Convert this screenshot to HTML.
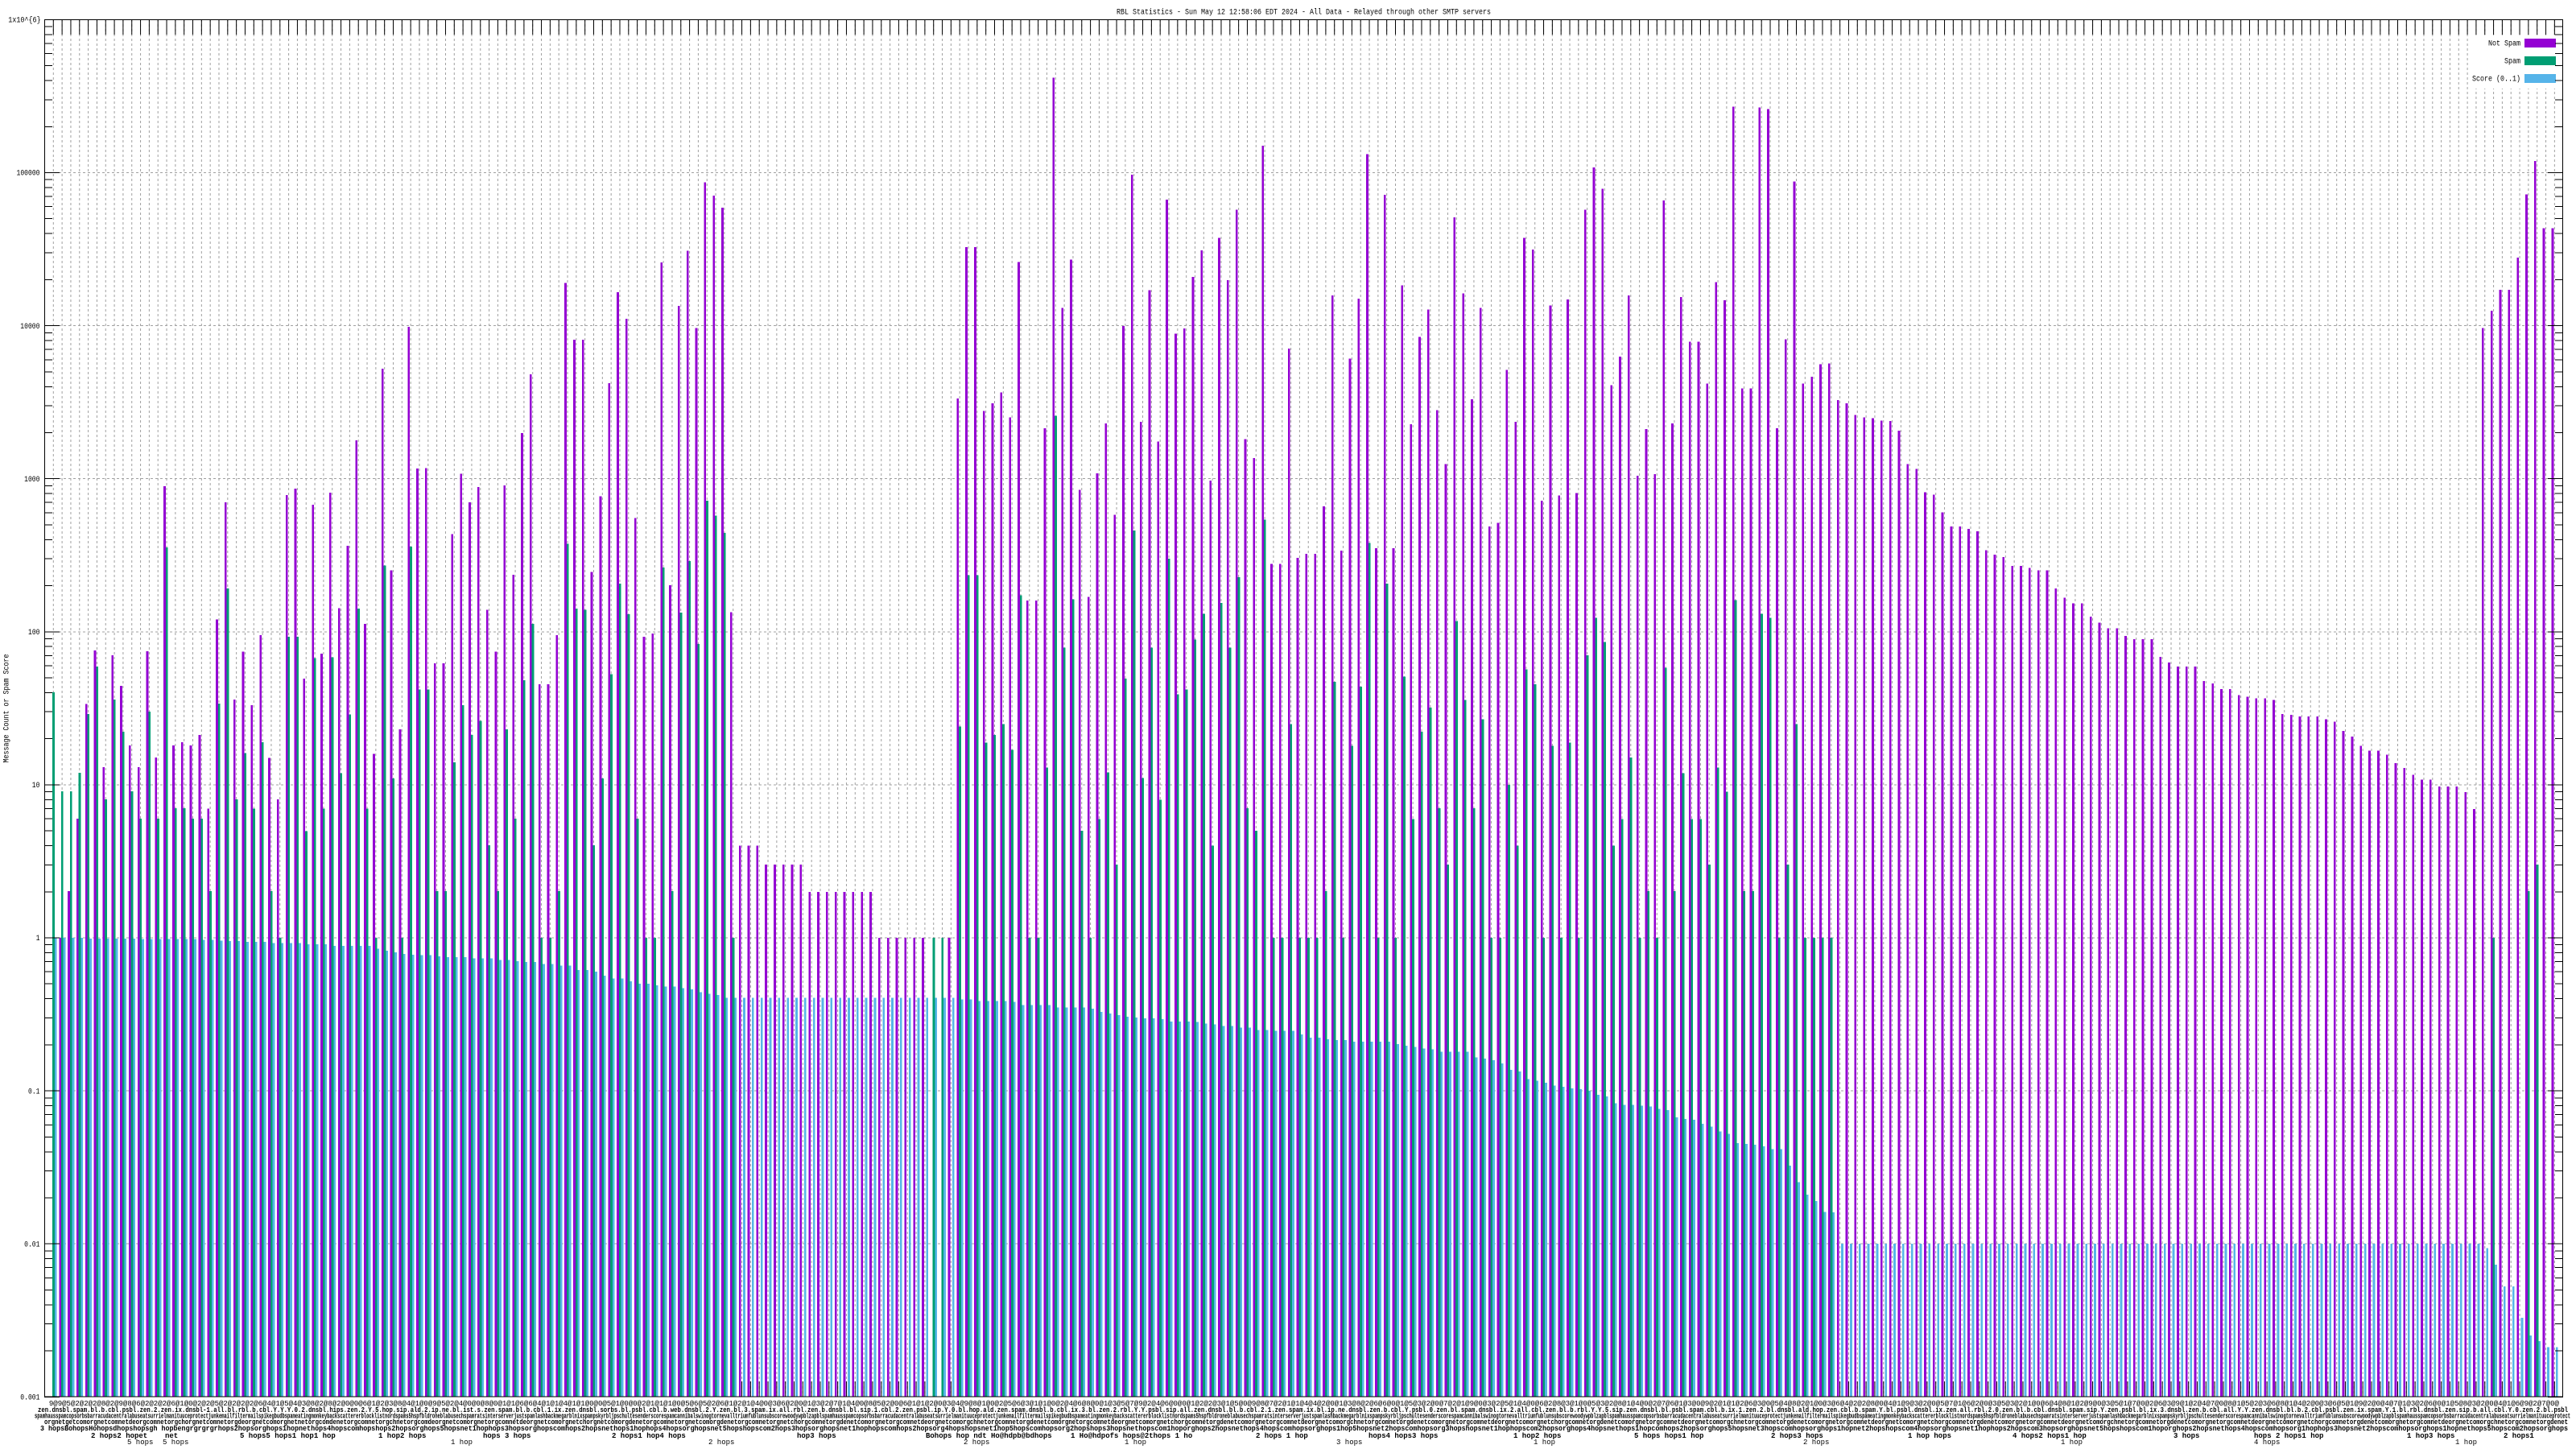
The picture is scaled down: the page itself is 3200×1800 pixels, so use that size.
<!DOCTYPE html>
<html><head><meta charset="utf-8"><style>
html,body{margin:0;padding:0;background:#fff;width:3200px;height:1800px;overflow:hidden}
svg{display:block}
</style></head><body>
<svg xmlns="http://www.w3.org/2000/svg" width="3200" height="1800" viewBox="0 0 3200 1800">
<rect width="3200" height="1800" fill="#fff"/>
<defs>
<path id="vl" d="M1 24V1735M2 24V1735M3 24V1735M4 24V1735M5 24V1735M6 24V1735M7 24V1735M8 24V1735M9 24V1735M10 24V1735M11 24V1735M12 24V1735M13 24V1735M14 24V1735M15 24V1735M16 24V1735M17 24V1735M18 24V1735M19 24V1735M20 24V1735M21 24V1735M22 24V1735M23 24V1735M24 24V1735M25 24V1735M26 24V1735M27 24V1735M28 24V1735M29 24V1735M30 24V1735M31 24V1735M32 24V1735M33 24V1735M34 24V1735M35 24V1735M36 24V1735M37 24V1735M38 24V1735M39 24V1735M40 24V1735M41 24V1735M42 24V1735M43 24V1735M44 24V1735M45 24V1735M46 24V1735M47 24V1735M48 24V1735M49 24V1735M50 24V1735M51 24V1735M52 24V1735M53 24V1735M54 24V1735M55 24V1735M56 24V1735M57 24V1735M58 24V1735M59 24V1735M60 24V1735M61 24V1735M62 24V1735M63 24V1735M64 24V1735M65 24V1735M66 24V1735M67 24V1735M68 24V1735M69 24V1735M70 24V1735M71 24V1735M72 24V1735M73 24V1735M74 24V1735M75 24V1735M76 24V1735M77 24V1735M78 24V1735M79 24V1735M80 24V1735M81 24V1735M82 24V1735M83 24V1735M84 24V1735M85 24V1735M86 24V1735M87 24V1735M88 24V1735M89 24V1735M90 24V1735M91 24V1735M92 24V1735M93 24V1735M94 24V1735M95 24V1735M96 24V1735M97 24V1735M98 24V1735M99 24V1735M100 24V1735M101 24V1735M102 24V1735M103 24V1735M104 24V1735M105 24V1735M106 24V1735M107 24V1735M108 24V1735M109 24V1735M110 24V1735M111 24V1735M112 24V1735M113 24V1735M114 24V1735M115 24V1735M116 24V1735M117 24V1735M118 24V1735M119 24V1735M120 24V1735M121 24V1735M122 24V1735M123 24V1735M124 24V1735M125 24V1735M126 24V1735M127 24V1735M128 24V1735M129 24V1735M130 24V1735M131 24V1735M132 24V1735M133 24V1735M134 24V1735M135 24V1735M136 24V1735M137 24V1735M138 24V1735M139 24V1735M140 24V1735M141 24V1735M142 24V1735M143 24V1735M144 24V1735M145 24V1735M146 24V1735M147 24V1735M148 24V1735M149 24V1735M150 24V1735M151 24V1735M152 24V1735M153 24V1735M154 24V1735M155 24V1735M156 24V1735M157 24V1735M158 24V1735M159 24V1735M160 24V1735M161 24V1735M162 24V1735M163 24V1735M164 24V1735M165 24V1735M166 24V1735M167 24V1735M168 24V1735M169 24V1735M170 24V1735M171 24V1735M172 24V1735M173 24V1735M174 24V1735M175 24V1735M176 24V1735M177 24V1735M178 24V1735M179 24V1735M180 24V1735M181 24V1735M182 24V1735M183 24V1735M184 24V1735M185 24V1735M186 24V1735M187 24V1735M188 24V1735M189 24V1735M190 24V1735M191 24V1735M192 24V1735M193 24V1735M194 24V1735M195 24V1735M196 24V1735M197 24V1735M198 24V1735M199 24V1735M200 24V1735M201 24V1735M202 24V1735M203 24V1735M204 24V1735M205 24V1735M206 24V1735M207 24V1735M208 24V1735M209 24V1735M210 24V1735M211 24V1735M212 24V1735M213 24V1735M214 24V1735M215 24V1735M216 24V1735M217 24V1735M218 24V1735M219 24V1735M220 24V1735M221 24V1735M222 24V1735M223 24V1735M224 24V1735M225 24V1735M226 24V1735M227 24V1735M228 24V1735M229 24V1735M230 24V1735M231 24V1735M232 24V1735M233 24V1735M234 24V1735M235 24V1735M236 24V1735M237 24V1735M238 24V1735M239 24V1735M240 24V1735M241 24V1735M242 24V1735M243 24V1735M244 24V1735M245 24V1735M246 24V1735M247 24V1735M248 24V1735M249 24V1735M250 24V1735M251 24V1735M252 24V1735M253 24V1735M254 24V1735M255 24V1735M256 24V1735M257 24V1735M258 24V1735M259 24V1735M260 24V1735M261 24V1735M262 24V1735M263 24V1735M264 24V1735M265 24V1735M266 24V1735M267 24V1735M268 24V1735M269 24V1735M270 24V1735M271 24V1735M272 24V1735M273 24V1735M274 24V1735M275 24V1735M276 24V1735M277 24V1735M278 24V1735M279 24V1735M280 24V1735M281 24V1735M282 24V1735M283 24V1735M284 24V1735M285 24V1735M286 24V1735M287 24V1735M288 24V1735"/>
<path id="yt" d="M55 1678.1h10M55 1644.6h10M55 1620.9h10M55 1602.4h10M55 1587.4h10M55 1574.7h10M55 1563.6h10M55 1553.9h10M55 1488h10M55 1454.5h10M55 1430.8h10M55 1412.3h10M55 1397.3h10M55 1384.6h10M55 1373.5h10M55 1363.8h10M55 1297.9h10M55 1264.4h10M55 1240.7h10M55 1222.2h10M55 1207.2h10M55 1194.5h10M55 1183.4h10M55 1173.7h10M55 1107.8h10M55 1074.3h10M55 1050.6h10M55 1032.1h10M55 1017.1h10M55 1004.4h10M55 993.3h10M55 983.6h10M55 917.7h10M55 884.2h10M55 860.5h10M55 842h10M55 827h10M55 814.3h10M55 803.2h10M55 793.5h10M55 727.6h10M55 694.1h10M55 670.4h10M55 651.9h10M55 636.9h10M55 624.2h10M55 613.1h10M55 603.4h10M55 537.5h10M55 504h10M55 480.3h10M55 461.8h10M55 446.8h10M55 434.1h10M55 423h10M55 413.3h10M55 347.4h10M55 313.9h10M55 290.2h10M55 271.7h10M55 256.7h10M55 244h10M55 232.9h10M55 223.2h10M55 157.3h10M55 123.8h10M55 100.1h10M55 81.6h10M55 66.6h10M55 53.9h10M55 42.8h10M55 33.1h10M55 1735.3h19M55 1545.2h19M55 1355.1h19M55 1165h19M55 974.9h19M55 784.8h19M55 594.7h19M55 404.6h19M55 214.5h19M55 24.4h19"/>
</defs>

<!-- horizontal grid -->
<path d="M55 214.5H3184M55 404.6H3184M55 594.7H3184M55 784.8H3184M55 974.9H3184M55 1165H3184M55 1355.1H3184M55 1545.2H3184" stroke="#a0a0a0" stroke-width="1" stroke-dasharray="3 3" fill="none" shape-rendering="crispEdges"/>
<!-- vertical grid -->
<use href="#vl" transform="translate(55.47 0) scale(10.826 1)" stroke="#a0a0a0" stroke-width="0.0924" stroke-dasharray="3 3" fill="none" shape-rendering="crispEdges"/>
<!-- x ticks top & bottom -->
<use href="#vl" transform="translate(55.47 0) scale(10.826 1)" stroke="#000" stroke-width="0.0924" stroke-dasharray="19 1673" fill="none" shape-rendering="crispEdges"/>

<!-- bars -->
<g transform="translate(55.47 1165) scale(10.826 -190.1)" shape-rendering="crispEdges">
<path fill="#9400d3" d="M1.65-3h.25V0h-.25zM2.65-3h.25V.305h-.25zM3.65-3h.25V.778h-.25zM4.65-3h.25V1.529h-.25zM5.65-3h.25V1.878h-.25zM6.65-3h.25V1.115h-.25zM7.65-3h.25V1.846h-.25zM8.65-3h.25V1.646h-.25zM9.65-3h.25V1.257h-.25zM10.65-3h.25V1.115h-.25zM11.65-3h.25V1.873h-.25zM12.65-3h.25V1.178h-.25zM13.65-3h.25V2.95h-.25zM14.65-3h.25V1.257h-.25zM15.65-3h.25V1.278h-.25zM16.65-3h.25V1.258h-.25zM17.65-3h.25V1.325h-.25zM18.65-3h.25V.845h-.25zM19.65-3h.25V2.081h-.25zM20.65-3h.25V2.845h-.25zM21.65-3h.25V1.557h-.25zM22.65-3h.25V1.871h-.25zM23.65-3h.25V1.52h-.25zM24.65-3h.25V1.978h-.25zM25.65-3h.25V1.177h-.25zM26.65-3h.25V.904h-.25zM27.65-3h.25V2.893h-.25zM28.65-3h.25V2.934h-.25zM29.65-3h.25V1.694h-.25zM30.65-3h.25V2.83h-.25zM31.65-3h.25V1.856h-.25zM32.65-3h.25V2.908h-.25zM33.65-3h.25V2.155h-.25zM34.65-3h.25V2.561h-.25zM35.65-3h.25V3.251h-.25zM36.65-3h.25V2.052h-.25zM37.65-3h.25V1.203h-.25zM38.65-3h.25V3.72h-.25zM39.65-3h.25V2.402h-.25zM40.65-3h.25V1.362h-.25zM41.65-3h.25V3.993h-.25zM42.65-3h.25V3.066h-.25zM43.65-3h.25V3.07h-.25zM44.65-3h.25V1.793h-.25zM45.65-3h.25V1.793h-.25zM46.65-3h.25V2.638h-.25zM47.65-3h.25V3.033h-.25zM48.65-3h.25V2.845h-.25zM49.65-3h.25V2.945h-.25zM50.65-3h.25V2.144h-.25zM51.65-3h.25V1.871h-.25zM52.65-3h.25V2.956h-.25zM53.65-3h.25V2.373h-.25zM54.65-3h.25V3.299h-.25zM55.65-3h.25V3.683h-.25zM56.65-3h.25V1.657h-.25zM57.65-3h.25V1.657h-.25zM58.65-3h.25V1.978h-.25zM59.65-3h.25V4.28h-.25zM60.65-3h.25V3.908h-.25zM61.65-3h.25V3.908h-.25zM62.65-3h.25V2.391h-.25zM63.65-3h.25V2.886h-.25zM64.65-3h.25V3.624h-.25zM65.65-3h.25V4.218h-.25zM66.65-3h.25V4.044h-.25zM67.65-3h.25V2.742h-.25zM68.65-3h.25V1.967h-.25zM69.65-3h.25V1.989h-.25zM70.65-3h.25V4.413h-.25zM71.65-3h.25V2.303h-.25zM72.65-3h.25V4.129h-.25zM73.65-3h.25V4.491h-.25zM74.65-3h.25V3.985h-.25zM75.65-3h.25V4.937h-.25zM76.65-3h.25V4.849h-.25zM77.65-3h.25V4.771h-.25zM78.65-3h.25V2.129h-.25zM79.65-3h.25V.602h-.25zM80.65-3h.25V.602h-.25zM81.65-3h.25V.602h-.25zM82.65-3h.25V.479h-.25zM83.65-3h.25V.479h-.25zM84.65-3h.25V.479h-.25zM85.65-3h.25V.479h-.25zM86.65-3h.25V.479h-.25zM87.65-3h.25V.301h-.25zM88.65-3h.25V.301h-.25zM89.65-3h.25V.301h-.25zM90.65-3h.25V.301h-.25zM91.65-3h.25V.301h-.25zM92.65-3h.25V.301h-.25zM93.65-3h.25V.301h-.25zM94.65-3h.25V.301h-.25zM95.65-3h.25V0h-.25zM96.65-3h.25V0h-.25zM97.65-3h.25V0h-.25zM98.65-3h.25V0h-.25zM99.65-3h.25V0h-.25zM100.65-3h.25V0h-.25zM103.65-3h.25V0h-.25zM104.65-3h.25V3.524h-.25zM105.65-3h.25V4.513h-.25zM106.65-3h.25V4.513h-.25zM107.65-3h.25V3.442h-.25zM108.65-3h.25V3.493h-.25zM109.65-3h.25V3.565h-.25zM110.65-3h.25V3.401h-.25zM111.65-3h.25V4.416h-.25zM112.65-3h.25V2.203h-.25zM113.65-3h.25V2.203h-.25zM114.65-3h.25V3.33h-.25zM115.65-3h.25V5.62h-.25zM116.65-3h.25V4.115h-.25zM117.65-3h.25V4.431h-.25zM118.65-3h.25V2.927h-.25zM119.65-3h.25V2.228h-.25zM120.65-3h.25V3.034h-.25zM121.65-3h.25V3.361h-.25zM122.65-3h.25V2.764h-.25zM123.65-3h.25V3.998h-.25zM124.65-3h.25V4.987h-.25zM125.65-3h.25V3.371h-.25zM126.65-3h.25V4.233h-.25zM127.65-3h.25V3.243h-.25zM128.65-3h.25V4.824h-.25zM129.65-3h.25V3.947h-.25zM130.65-3h.25V3.983h-.25zM131.65-3h.25V4.319h-.25zM132.65-3h.25V4.493h-.25zM133.65-3h.25V2.988h-.25zM134.65-3h.25V4.574h-.25zM135.65-3h.25V4.299h-.25zM136.65-3h.25V4.758h-.25zM137.65-3h.25V3.259h-.25zM138.65-3h.25V3.136h-.25zM139.65-3h.25V5.176h-.25zM140.65-3h.25V2.443h-.25zM141.65-3h.25V2.443h-.25zM142.65-3h.25V3.85h-.25zM143.65-3h.25V2.483h-.25zM144.65-3h.25V2.509h-.25zM145.65-3h.25V2.509h-.25zM146.65-3h.25V2.82h-.25zM147.65-3h.25V4.197h-.25zM148.65-3h.25V2.529h-.25zM149.65-3h.25V3.784h-.25zM150.65-3h.25V4.176h-.25zM151.65-3h.25V5.12h-.25zM152.65-3h.25V2.545h-.25zM153.65-3h.25V4.855h-.25zM154.65-3h.25V2.545h-.25zM155.65-3h.25V4.263h-.25zM156.65-3h.25V3.355h-.25zM157.65-3h.25V3.927h-.25zM158.65-3h.25V4.105h-.25zM159.65-3h.25V3.447h-.25zM160.65-3h.25V3.095h-.25zM161.65-3h.25V4.707h-.25zM162.65-3h.25V4.212h-.25zM163.65-3h.25V3.519h-.25zM164.65-3h.25V4.115h-.25zM165.65-3h.25V2.687h-.25zM166.65-3h.25V2.713h-.25zM167.65-3h.25V3.712h-.25zM168.65-3h.25V3.371h-.25zM169.65-3h.25V4.574h-.25zM170.65-3h.25V4.498h-.25zM171.65-3h.25V2.856h-.25zM172.65-3h.25V4.131h-.25zM173.65-3h.25V2.891h-.25zM174.65-3h.25V4.171h-.25zM175.65-3h.25V2.907h-.25zM176.65-3h.25V4.758h-.25zM177.65-3h.25V5.033h-.25zM178.65-3h.25V4.895h-.25zM179.65-3h.25V3.61h-.25zM180.65-3h.25V3.799h-.25zM181.65-3h.25V4.197h-.25zM182.65-3h.25V3.019h-.25zM183.65-3h.25V3.325h-.25zM184.65-3h.25V3.029h-.25zM185.65-3h.25V4.819h-.25zM186.65-3h.25V3.361h-.25zM187.65-3h.25V4.187h-.25zM188.65-3h.25V3.896h-.25zM189.65-3h.25V3.896h-.25zM190.65-3h.25V3.621h-.25zM191.65-3h.25V4.284h-.25zM192.65-3h.25V4.166h-.25zM193.65-3h.25V5.431h-.25zM194.65-3h.25V3.59h-.25zM195.65-3h.25V3.59h-.25zM196.65-3h.25V5.426h-.25zM197.65-3h.25V5.416h-.25zM198.65-3h.25V3.33h-.25zM199.65-3h.25V3.911h-.25zM200.65-3h.25V4.941h-.25zM201.65-3h.25V3.621h-.25zM202.65-3h.25V3.667h-.25zM203.65-3h.25V3.748h-.25zM204.65-3h.25V3.752h-.25zM205.65-3h.25V3.514h-.25zM206.65-3h.25V3.493h-.25zM207.65-3h.25V3.417h-.25zM208.65-3h.25V3.401h-.25zM209.65-3h.25V3.396h-.25zM210.65-3h.25V3.381h-.25zM211.65-3h.25V3.376h-.25zM212.65-3h.25V3.315h-.25zM213.65-3h.25V3.095h-.25zM214.65-3h.25V3.065h-.25zM215.65-3h.25V2.912h-.25zM216.65-3h.25V2.896h-.25zM217.65-3h.25V2.779h-.25zM218.65-3h.25V2.687h-.25zM219.65-3h.25V2.687h-.25zM220.65-3h.25V2.672h-.25zM221.65-3h.25V2.657h-.25zM222.65-3h.25V2.534h-.25zM223.65-3h.25V2.504h-.25zM224.65-3h.25V2.489h-.25zM225.65-3h.25V2.429h-.25zM226.65-3h.25V2.429h-.25zM227.65-3h.25V2.418h-.25zM228.65-3h.25V2.402h-.25zM229.65-3h.25V2.402h-.25zM230.65-3h.25V2.283h-.25zM231.65-3h.25V2.223h-.25zM232.65-3h.25V2.185h-.25zM233.65-3h.25V2.185h-.25zM234.65-3h.25V2.098h-.25zM235.65-3h.25V2.06h-.25zM236.65-3h.25V2.022h-.25zM237.65-3h.25V2.022h-.25zM238.65-3h.25V1.973h-.25zM239.65-3h.25V1.951h-.25zM240.65-3h.25V1.951h-.25zM241.65-3h.25V1.951h-.25zM242.65-3h.25V1.837h-.25zM243.65-3h.25V1.799h-.25zM244.65-3h.25V1.772h-.25zM245.65-3h.25V1.772h-.25zM246.65-3h.25V1.772h-.25zM247.65-3h.25V1.679h-.25zM248.65-3h.25V1.663h-.25zM249.65-3h.25V1.625h-.25zM250.65-3h.25V1.625h-.25zM251.65-3h.25V1.587h-.25zM252.65-3h.25V1.576h-.25zM253.65-3h.25V1.565h-.25zM254.65-3h.25V1.565h-.25zM255.65-3h.25V1.554h-.25zM256.65-3h.25V1.462h-.25zM257.65-3h.25V1.457h-.25zM258.65-3h.25V1.446h-.25zM259.65-3h.25V1.446h-.25zM260.65-3h.25V1.446h-.25zM261.65-3h.25V1.429h-.25zM262.65-3h.25V1.413h-.25zM263.65-3h.25V1.353h-.25zM264.65-3h.25V1.315h-.25zM265.65-3h.25V1.255h-.25zM266.65-3h.25V1.223h-.25zM267.65-3h.25V1.223h-.25zM268.65-3h.25V1.196h-.25zM269.65-3h.25V1.141h-.25zM270.65-3h.25V1.109h-.25zM271.65-3h.25V1.065h-.25zM272.65-3h.25V1.033h-.25zM273.65-3h.25V1.033h-.25zM274.65-3h.25V.989h-.25zM275.65-3h.25V.989h-.25zM276.65-3h.25V.989h-.25zM277.65-3h.25V.951h-.25zM278.65-3h.25V.842h-.25zM279.65-3h.25V3.984h-.25zM280.65-3h.25V4.098h-.25zM281.65-3h.25V4.234h-.25zM282.65-3h.25V4.234h-.25zM283.65-3h.25V4.446h-.25zM284.65-3h.25V4.859h-.25zM285.65-3h.25V5.076h-.25zM286.65-3h.25V4.636h-.25zM287.65-3h.25V4.636h-.25z"/>
<path fill="#009e73" d="M.9-3h.25V1.604h-.25zM1.9-3h.25V.957h-.25zM2.9-3h.25V.957h-.25zM3.9-3h.25V1.078h-.25zM4.9-3h.25V1.462h-.25zM5.9-3h.25V1.773h-.25zM6.9-3h.25V.905h-.25zM7.9-3h.25V1.557h-.25zM8.9-3h.25V1.347h-.25zM9.9-3h.25V.957h-.25zM10.9-3h.25V.778h-.25zM11.9-3h.25V1.478h-.25zM12.9-3h.25V.778h-.25zM13.9-3h.25V2.55h-.25zM14.9-3h.25V.847h-.25zM15.9-3h.25V.847h-.25zM16.9-3h.25V.779h-.25zM17.9-3h.25V.779h-.25zM18.9-3h.25V.306h-.25zM19.9-3h.25V1.531h-.25zM20.9-3h.25V2.284h-.25zM21.9-3h.25V.904h-.25zM22.9-3h.25V1.207h-.25zM23.9-3h.25V.845h-.25zM24.9-3h.25V1.277h-.25zM25.9-3h.25V.306h-.25zM26.9-3h.25V0h-.25zM27.9-3h.25V1.967h-.25zM28.9-3h.25V1.967h-.25zM29.9-3h.25V.697h-.25zM30.9-3h.25V1.827h-.25zM31.9-3h.25V.845h-.25zM32.9-3h.25V1.834h-.25zM33.9-3h.25V1.077h-.25zM34.9-3h.25V1.461h-.25zM35.9-3h.25V2.151h-.25zM36.9-3h.25V.845h-.25zM37.9-3h.25V0h-.25zM38.9-3h.25V2.432h-.25zM39.9-3h.25V1.041h-.25zM40.9-3h.25V0h-.25zM41.9-3h.25V2.557h-.25zM42.9-3h.25V1.624h-.25zM43.9-3h.25V1.624h-.25zM44.9-3h.25V.306h-.25zM45.9-3h.25V.306h-.25zM46.9-3h.25V1.148h-.25zM47.9-3h.25V1.52h-.25zM48.9-3h.25V1.325h-.25zM49.9-3h.25V1.417h-.25zM50.9-3h.25V.605h-.25zM51.9-3h.25V.306h-.25zM52.9-3h.25V1.362h-.25zM53.9-3h.25V.779h-.25zM54.9-3h.25V1.683h-.25zM55.9-3h.25V2.052h-.25zM56.9-3h.25V0h-.25zM57.9-3h.25V0h-.25zM58.9-3h.25V.306h-.25zM59.9-3h.25V2.576h-.25zM60.9-3h.25V2.151h-.25zM61.9-3h.25V2.144h-.25zM62.9-3h.25V.605h-.25zM63.9-3h.25V1.041h-.25zM64.9-3h.25V1.723h-.25zM65.9-3h.25V2.314h-.25zM66.9-3h.25V2.114h-.25zM67.9-3h.25V.779h-.25zM68.9-3h.25V0h-.25zM69.9-3h.25V0h-.25zM70.9-3h.25V2.421h-.25zM71.9-3h.25V.306h-.25zM72.9-3h.25V2.125h-.25zM73.9-3h.25V2.461h-.25zM74.9-3h.25V1.919h-.25zM75.9-3h.25V2.856h-.25zM76.9-3h.25V2.76h-.25zM77.9-3h.25V2.646h-.25zM78.9-3h.25V0h-.25zM101.9-3h.25V0h-.25zM102.9-3h.25V0h-.25zM104.9-3h.25V1.382h-.25zM105.9-3h.25V2.371h-.25zM106.9-3h.25V2.371h-.25zM107.9-3h.25V1.275h-.25zM108.9-3h.25V1.326h-.25zM109.9-3h.25V1.397h-.25zM110.9-3h.25V1.229h-.25zM111.9-3h.25V2.239h-.25zM112.9-3h.25V0h-.25zM113.9-3h.25V0h-.25zM114.9-3h.25V1.112h-.25zM115.9-3h.25V3.411h-.25zM116.9-3h.25V1.897h-.25zM117.9-3h.25V2.213h-.25zM118.9-3h.25V.699h-.25zM119.9-3h.25V0h-.25zM120.9-3h.25V.775h-.25zM121.9-3h.25V1.081h-.25zM122.9-3h.25V.479h-.25zM123.9-3h.25V1.693h-.25zM124.9-3h.25V2.662h-.25zM125.9-3h.25V1.045h-.25zM126.9-3h.25V1.897h-.25zM127.9-3h.25V.903h-.25zM128.9-3h.25V2.478h-.25zM129.9-3h.25V1.591h-.25zM130.9-3h.25V1.622h-.25zM131.9-3h.25V1.948h-.25zM132.9-3h.25V2.116h-.25zM133.9-3h.25V.602h-.25zM134.9-3h.25V2.188h-.25zM135.9-3h.25V1.897h-.25zM136.9-3h.25V2.356h-.25zM137.9-3h.25V.847h-.25zM138.9-3h.25V.699h-.25zM139.9-3h.25V2.733h-.25zM140.9-3h.25V0h-.25zM141.9-3h.25V0h-.25zM142.9-3h.25V1.397h-.25zM143.9-3h.25V0h-.25zM144.9-3h.25V0h-.25zM145.9-3h.25V0h-.25zM146.9-3h.25V.306h-.25zM147.9-3h.25V1.673h-.25zM148.9-3h.25V0h-.25zM149.9-3h.25V1.254h-.25zM150.9-3h.25V1.642h-.25zM151.9-3h.25V2.58h-.25zM152.9-3h.25V0h-.25zM153.9-3h.25V2.315h-.25zM154.9-3h.25V0h-.25zM155.9-3h.25V1.708h-.25zM156.9-3h.25V.775h-.25zM157.9-3h.25V1.346h-.25zM158.9-3h.25V1.504h-.25zM159.9-3h.25V.847h-.25zM160.9-3h.25V.479h-.25zM161.9-3h.25V2.07h-.25zM162.9-3h.25V1.555h-.25zM163.9-3h.25V.847h-.25zM164.9-3h.25V1.428h-.25zM165.9-3h.25V0h-.25zM166.9-3h.25V0h-.25zM167.9-3h.25V1h-.25zM168.9-3h.25V.602h-.25zM169.9-3h.25V1.754h-.25zM170.9-3h.25V1.657h-.25zM171.9-3h.25V0h-.25zM172.9-3h.25V1.254h-.25zM173.9-3h.25V0h-.25zM174.9-3h.25V1.275h-.25zM175.9-3h.25V0h-.25zM176.9-3h.25V1.846h-.25zM177.9-3h.25V2.091h-.25zM178.9-3h.25V1.933h-.25zM179.9-3h.25V.602h-.25zM180.9-3h.25V.775h-.25zM181.9-3h.25V1.178h-.25zM182.9-3h.25V0h-.25zM183.9-3h.25V.306h-.25zM184.9-3h.25V0h-.25zM185.9-3h.25V1.764h-.25zM186.9-3h.25V.306h-.25zM187.9-3h.25V1.076h-.25zM188.9-3h.25V.775h-.25zM189.9-3h.25V.775h-.25zM190.9-3h.25V.479h-.25zM191.9-3h.25V1.112h-.25zM192.9-3h.25V.954h-.25zM193.9-3h.25V2.208h-.25zM194.9-3h.25V.306h-.25zM195.9-3h.25V.306h-.25zM196.9-3h.25V2.116h-.25zM197.9-3h.25V2.091h-.25zM198.9-3h.25V0h-.25zM199.9-3h.25V.479h-.25zM200.9-3h.25V1.397h-.25zM201.9-3h.25V0h-.25zM202.9-3h.25V0h-.25zM203.9-3h.25V0h-.25zM204.9-3h.25V0h-.25zM280.9-3h.25V0h-.25zM284.9-3h.25V.304h-.25zM285.9-3h.25V.478h-.25z"/>
<path fill="#56b4e9" d="M1.15-3h.25V0h-.25zM2.15-3h.25V0h-.25zM3.15-3h.25V0h-.25zM4.15-3h.25V0h-.25zM5.15-3h.25V-.004h-.25zM6.15-3h.25V-.004h-.25zM7.15-3h.25V-.004h-.25zM8.15-3h.25V-.004h-.25zM9.15-3h.25V-.004h-.25zM10.15-3h.25V-.004h-.25zM11.15-3h.25V-.007h-.25zM12.15-3h.25V-.007h-.25zM13.15-3h.25V-.007h-.25zM14.15-3h.25V-.007h-.25zM15.15-3h.25V-.007h-.25zM16.15-3h.25V-.007h-.25zM17.15-3h.25V-.007h-.25zM18.15-3h.25V-.012h-.25zM19.15-3h.25V-.012h-.25zM20.15-3h.25V-.018h-.25zM21.15-3h.25V-.022h-.25zM22.15-3h.25V-.022h-.25zM23.15-3h.25V-.026h-.25zM24.15-3h.25V-.026h-.25zM25.15-3h.25V-.026h-.25zM26.15-3h.25V-.033h-.25zM27.15-3h.25V-.033h-.25zM28.15-3h.25V-.033h-.25zM29.15-3h.25V-.033h-.25zM30.15-3h.25V-.041h-.25zM31.15-3h.25V-.041h-.25zM32.15-3h.25V-.041h-.25zM33.15-3h.25V-.052h-.25zM34.15-3h.25V-.052h-.25zM35.15-3h.25V-.052h-.25zM36.15-3h.25V-.052h-.25zM37.15-3h.25V-.052h-.25zM38.15-3h.25V-.07h-.25zM39.15-3h.25V-.083h-.25zM40.15-3h.25V-.096h-.25zM41.15-3h.25V-.104h-.25zM42.15-3h.25V-.111h-.25zM43.15-3h.25V-.114h-.25zM44.15-3h.25V-.114h-.25zM45.15-3h.25V-.12h-.25zM46.15-3h.25V-.125h-.25zM47.15-3h.25V-.125h-.25zM48.15-3h.25V-.125h-.25zM49.15-3h.25V-.133h-.25zM50.15-3h.25V-.133h-.25zM51.15-3h.25V-.133h-.25zM52.15-3h.25V-.144h-.25zM53.15-3h.25V-.144h-.25zM54.15-3h.25V-.152h-.25zM55.15-3h.25V-.159h-.25zM56.15-3h.25V-.159h-.25zM57.15-3h.25V-.17h-.25zM58.15-3h.25V-.17h-.25zM59.15-3h.25V-.181h-.25zM60.15-3h.25V-.181h-.25zM61.15-3h.25V-.21h-.25zM62.15-3h.25V-.21h-.25zM63.15-3h.25V-.221h-.25zM64.15-3h.25V-.247h-.25zM65.15-3h.25V-.266h-.25zM66.15-3h.25V-.266h-.25zM67.15-3h.25V-.284h-.25zM68.15-3h.25V-.299h-.25zM69.15-3h.25V-.299h-.25zM70.15-3h.25V-.31h-.25zM71.15-3h.25V-.317h-.25zM72.15-3h.25V-.317h-.25zM73.15-3h.25V-.328h-.25zM74.15-3h.25V-.336h-.25zM75.15-3h.25V-.354h-.25zM76.15-3h.25V-.365h-.25zM77.15-3h.25V-.373h-.25zM78.15-3h.25V-.393h-.25zM79.15-3h.25V-.393h-.25zM80.15-3h.25V-.393h-.25zM81.15-3h.25V-.393h-.25zM82.15-3h.25V-.393h-.25zM83.15-3h.25V-.393h-.25zM84.15-3h.25V-.393h-.25zM85.15-3h.25V-.393h-.25zM86.15-3h.25V-.393h-.25zM87.15-3h.25V-.393h-.25zM88.15-3h.25V-.393h-.25zM89.15-3h.25V-.393h-.25zM90.15-3h.25V-.393h-.25zM91.15-3h.25V-.393h-.25zM92.15-3h.25V-.393h-.25zM93.15-3h.25V-.393h-.25zM94.15-3h.25V-.393h-.25zM95.15-3h.25V-.393h-.25zM96.15-3h.25V-.393h-.25zM97.15-3h.25V-.393h-.25zM98.15-3h.25V-.393h-.25zM99.15-3h.25V-.393h-.25zM100.15-3h.25V-.393h-.25zM101.15-3h.25V-.393h-.25zM102.15-3h.25V-.393h-.25zM103.15-3h.25V-.393h-.25zM104.15-3h.25V-.393h-.25zM105.15-3h.25V-.403h-.25zM106.15-3h.25V-.403h-.25zM107.15-3h.25V-.413h-.25zM108.15-3h.25V-.413h-.25zM109.15-3h.25V-.413h-.25zM110.15-3h.25V-.413h-.25zM111.15-3h.25V-.418h-.25zM112.15-3h.25V-.439h-.25zM113.15-3h.25V-.439h-.25zM114.15-3h.25V-.439h-.25zM115.15-3h.25V-.439h-.25zM116.15-3h.25V-.454h-.25zM117.15-3h.25V-.454h-.25zM118.15-3h.25V-.454h-.25zM119.15-3h.25V-.454h-.25zM120.15-3h.25V-.464h-.25zM121.15-3h.25V-.484h-.25zM122.15-3h.25V-.495h-.25zM123.15-3h.25V-.505h-.25zM124.15-3h.25V-.515h-.25zM125.15-3h.25V-.52h-.25zM126.15-3h.25V-.525h-.25zM127.15-3h.25V-.525h-.25zM128.15-3h.25V-.53h-.25zM129.15-3h.25V-.546h-.25zM130.15-3h.25V-.546h-.25zM131.15-3h.25V-.546h-.25zM132.15-3h.25V-.551h-.25zM133.15-3h.25V-.561h-.25zM134.15-3h.25V-.566h-.25zM135.15-3h.25V-.576h-.25zM136.15-3h.25V-.576h-.25zM137.15-3h.25V-.586h-.25zM138.15-3h.25V-.586h-.25zM139.15-3h.25V-.602h-.25zM140.15-3h.25V-.602h-.25zM141.15-3h.25V-.607h-.25zM142.15-3h.25V-.607h-.25zM143.15-3h.25V-.607h-.25zM144.15-3h.25V-.632h-.25zM145.15-3h.25V-.653h-.25zM146.15-3h.25V-.653h-.25zM147.15-3h.25V-.663h-.25zM148.15-3h.25V-.668h-.25zM149.15-3h.25V-.668h-.25zM150.15-3h.25V-.678h-.25zM151.15-3h.25V-.678h-.25zM152.15-3h.25V-.678h-.25zM153.15-3h.25V-.678h-.25zM154.15-3h.25V-.678h-.25zM155.15-3h.25V-.694h-.25zM156.15-3h.25V-.704h-.25zM157.15-3h.25V-.714h-.25zM158.15-3h.25V-.724h-.25zM159.15-3h.25V-.729h-.25zM160.15-3h.25V-.745h-.25zM161.15-3h.25V-.745h-.25zM162.15-3h.25V-.745h-.25zM163.15-3h.25V-.745h-.25zM164.15-3h.25V-.78h-.25zM165.15-3h.25V-.79h-.25zM166.15-3h.25V-.8h-.25zM167.15-3h.25V-.821h-.25zM168.15-3h.25V-.862h-.25zM169.15-3h.25V-.872h-.25zM170.15-3h.25V-.923h-.25zM171.15-3h.25V-.933h-.25zM172.15-3h.25V-.948h-.25zM173.15-3h.25V-.964h-.25zM174.15-3h.25V-.974h-.25zM175.15-3h.25V-.984h-.25zM176.15-3h.25V-.989h-.25zM177.15-3h.25V-.999h-.25zM178.15-3h.25V-1.025h-.25zM179.15-3h.25V-1.035h-.25zM180.15-3h.25V-1.081h-.25zM181.15-3h.25V-1.091h-.25zM182.15-3h.25V-1.091h-.25zM183.15-3h.25V-1.096h-.25zM184.15-3h.25V-1.101h-.25zM185.15-3h.25V-1.117h-.25zM186.15-3h.25V-1.127h-.25zM187.15-3h.25V-1.173h-.25zM188.15-3h.25V-1.183h-.25zM189.15-3h.25V-1.188h-.25zM190.15-3h.25V-1.214h-.25zM191.15-3h.25V-1.234h-.25zM192.15-3h.25V-1.265h-.25zM193.15-3h.25V-1.28h-.25zM194.15-3h.25V-1.341h-.25zM195.15-3h.25V-1.346h-.25zM196.15-3h.25V-1.351h-.25zM197.15-3h.25V-1.362h-.25zM198.15-3h.25V-1.382h-.25zM199.15-3h.25V-1.382h-.25zM200.15-3h.25V-1.489h-.25zM201.15-3h.25V-1.596h-.25zM202.15-3h.25V-1.678h-.25zM203.15-3h.25V-1.719h-.25zM204.15-3h.25V-1.79h-.25zM205.15-3h.25V-1.795h-.25zM206.15-3h.25V-2h-.25zM207.15-3h.25V-2h-.25zM208.15-3h.25V-2h-.25zM209.15-3h.25V-2h-.25zM210.15-3h.25V-2h-.25zM211.15-3h.25V-2h-.25zM212.15-3h.25V-2h-.25zM213.15-3h.25V-2h-.25zM214.15-3h.25V-2h-.25zM215.15-3h.25V-2h-.25zM216.15-3h.25V-2h-.25zM217.15-3h.25V-2h-.25zM218.15-3h.25V-2h-.25zM219.15-3h.25V-2h-.25zM220.15-3h.25V-2h-.25zM221.15-3h.25V-2h-.25zM222.15-3h.25V-2h-.25zM223.15-3h.25V-2h-.25zM224.15-3h.25V-2h-.25zM225.15-3h.25V-2h-.25zM226.15-3h.25V-2h-.25zM227.15-3h.25V-2h-.25zM228.15-3h.25V-2h-.25zM229.15-3h.25V-2h-.25zM230.15-3h.25V-2h-.25zM231.15-3h.25V-2h-.25zM232.15-3h.25V-2h-.25zM233.15-3h.25V-2h-.25zM234.15-3h.25V-2h-.25zM235.15-3h.25V-2h-.25zM236.15-3h.25V-2h-.25zM237.15-3h.25V-2h-.25zM238.15-3h.25V-2h-.25zM239.15-3h.25V-2h-.25zM240.15-3h.25V-2h-.25zM241.15-3h.25V-2h-.25zM242.15-3h.25V-2h-.25zM243.15-3h.25V-2h-.25zM244.15-3h.25V-2h-.25zM245.15-3h.25V-2h-.25zM246.15-3h.25V-2h-.25zM247.15-3h.25V-2h-.25zM248.15-3h.25V-2h-.25zM249.15-3h.25V-2h-.25zM250.15-3h.25V-2h-.25zM251.15-3h.25V-2h-.25zM252.15-3h.25V-2h-.25zM253.15-3h.25V-2h-.25zM254.15-3h.25V-2h-.25zM255.15-3h.25V-2h-.25zM256.15-3h.25V-2h-.25zM257.15-3h.25V-2h-.25zM258.15-3h.25V-2h-.25zM259.15-3h.25V-2h-.25zM260.15-3h.25V-2h-.25zM261.15-3h.25V-2h-.25zM262.15-3h.25V-2h-.25zM263.15-3h.25V-2h-.25zM264.15-3h.25V-2h-.25zM265.15-3h.25V-2h-.25zM266.15-3h.25V-2h-.25zM267.15-3h.25V-2h-.25zM268.15-3h.25V-2h-.25zM269.15-3h.25V-2h-.25zM270.15-3h.25V-2h-.25zM271.15-3h.25V-2h-.25zM272.15-3h.25V-2h-.25zM273.15-3h.25V-2h-.25zM274.15-3h.25V-2h-.25zM275.15-3h.25V-2h-.25zM276.15-3h.25V-2h-.25zM277.15-3h.25V-2h-.25zM278.15-3h.25V-2h-.25zM279.15-3h.25V-2h-.25zM280.15-3h.25V-2.027h-.25zM281.15-3h.25V-2.136h-.25zM282.15-3h.25V-2.277h-.25zM283.15-3h.25V-2.277h-.25zM284.15-3h.25V-2.484h-.25zM285.15-3h.25V-2.598h-.25zM286.15-3h.25V-2.636h-.25zM287.15-3h.25V-2.674h-.25zM288.15-3h.25V-2.674h-.25z"/>
</g>

<!-- legend background -->
<rect x="3068" y="44" width="115" height="66" fill="#fff"/>
<rect x="3136" y="48" width="39" height="11" fill="#9400d3"/>
<rect x="3136" y="70" width="39" height="11" fill="#009e73"/>
<rect x="3136" y="92" width="39" height="11" fill="#56b4e9"/>

<!-- y ticks left & right -->
<use href="#yt" stroke="#000" stroke-width="1" fill="none" shape-rendering="crispEdges"/>
<use href="#yt" transform="translate(3239 0) scale(-1 1)" stroke="#000" stroke-width="1" fill="none" shape-rendering="crispEdges"/>

<!-- border -->
<rect x="55.5" y="24.5" width="3128" height="1710.5" fill="none" stroke="#000" stroke-width="1" shape-rendering="crispEdges"/>

<g font-family="'Liberation Mono', 'DejaVu Sans Mono', monospace" fill="#000">
<text x="1619.5" y="17.6" font-size="10" text-anchor="middle" textLength="465" lengthAdjust="spacingAndGlyphs">RBL Statistics - Sun May 12 12:58:06 EDT 2024 - All Data - Relayed through other SMTP servers</text>

<text x="3131" y="56.5" font-size="10" text-anchor="end" textLength="40" lengthAdjust="spacingAndGlyphs">Not Spam</text>
<text x="3131" y="78.5" font-size="10" text-anchor="end" textLength="20" lengthAdjust="spacingAndGlyphs">Spam</text>
<text x="3131" y="100.5" font-size="10" text-anchor="end" textLength="60" lengthAdjust="spacingAndGlyphs">Score (0..1)</text>

<g font-size="10" text-anchor="end" lengthAdjust="spacingAndGlyphs">
<text x="50.7" y="27.6" textLength="40.5" lengthAdjust="spacingAndGlyphs">1x10^{6}</text>
<text x="49.5" y="217.7" textLength="29" lengthAdjust="spacingAndGlyphs">100000</text>
<text x="49.5" y="407.8" textLength="24.2" lengthAdjust="spacingAndGlyphs">10000</text>
<text x="49.5" y="597.9" textLength="19.4" lengthAdjust="spacingAndGlyphs">1000</text>
<text x="49.5" y="788" textLength="14.5" lengthAdjust="spacingAndGlyphs">100</text>
<text x="49.5" y="978.1" textLength="9.7" lengthAdjust="spacingAndGlyphs">10</text>
<text x="49.5" y="1168.2" textLength="4.8" lengthAdjust="spacingAndGlyphs">1</text>
<text x="49.5" y="1358.3" textLength="14.5" lengthAdjust="spacingAndGlyphs">0.1</text>
<text x="49.5" y="1548.4" textLength="19.4" lengthAdjust="spacingAndGlyphs">0.01</text>
<text x="49.5" y="1738.5" textLength="24.2" lengthAdjust="spacingAndGlyphs">0.001</text>
</g>

<text transform="translate(10.5 880) rotate(-90)" x="0" y="0" font-size="10" text-anchor="middle" textLength="135" lengthAdjust="spacingAndGlyphs">Message Count or Spam Score</text>

<g font-size="9">
<text x="60.9" y="1746" textLength="3118" lengthAdjust="spacingAndGlyphs">9@9@5@2@2@2@8@2@9@8@6@2@2@2@6@1@0@2@2@5@2@2@2@2@6@4@1@5@4@3@8@2@8@2@0@0@6@1@2@3@8@4@1@0@9@5@2@4@0@0@8@0@1@1@6@6@4@1@1@4@1@1@0@0@5@1@0@0@2@1@1@1@0@5@6@5@2@6@1@2@1@4@0@3@6@2@0@1@3@2@7@1@4@0@8@5@2@0@6@1@1@2@0@3@4@9@8@1@0@2@5@6@3@1@1@0@2@4@6@8@0@1@3@5@7@9@2@4@6@0@0@1@2@2@3@1@5@0@9@8@7@2@1@1@4@4@2@0@1@3@8@2@6@6@0@1@5@3@2@0@7@2@1@9@0@3@2@5@1@4@0@6@2@8@3@1@0@5@3@2@8@1@4@0@2@7@6@1@3@0@9@2@1@1@2@6@3@0@5@4@8@2@1@0@3@6@4@2@2@8@0@4@1@9@3@2@0@5@7@1@6@2@0@3@5@3@2@1@0@6@4@8@1@2@9@0@3@5@1@7@0@2@6@3@9@1@2@4@7@0@8@1@5@2@3@6@8@1@4@2@0@3@6@5@1@9@2@0@4@7@1@3@2@6@0@1@5@8@3@2@0@4@1@6@9@2@7@0@</text>
<g font-weight="bold">
<text x="47" y="1754" textLength="3143" lengthAdjust="spacingAndGlyphs">zen.dnsbl.spam.bl.b.cbl.psbl.zen.2.zen.ix.dnsbl-1.all.bl.rbl.b.cbl.Y.Y.Y.0.2.dnsbl.hips.zen.2.Y.5.hop.sip.ald.2.ip.ne.bl.ist.s.zen.spam.bl.b.cbl.1.ix.zen.dnsbl.sorbs.bl.psbl.cbl.b.web.dnsbl.2.Y.zen.bl.3.spam.ix.all.rbl.zen.b.dnsbl.bl.sip.1.cbl.2.zen.psbl.ip.Y.0.bl.hop.ald.zen.spam.dnsbl.b.cbl.ix.3.bl.zen.2.rbl.Y.Y.psbl.sip.all.zen.dnsbl.bl.b.cbl.2.1.zen.spam.ix.bl.ip.ne.dnsbl.zen.b.cbl.Y.psbl.0.zen.bl.spam.dnsbl.ix.2.all.cbl.zen.bl.b.rbl.Y.Y.5.sip.zen.dnsbl.bl.psbl.spam.cbl.b.ix.1.zen.2.bl.dnsbl.ald.hop.zen.cbl.b.spam.Y.bl.psbl.dnsbl.ix.zen.all.rbl.2.0.zen.bl.b.cbl.dnsbl.spam.sip.Y.zen.psbl.bl.ix.3.dnsbl.zen.b.cbl.all.Y.Y.zen.dnsbl.bl.b.2.cbl.psbl.zen.ix.spam.Y.1.bl.rbl.dnsbl.zen.sip.b.all.cbl.Y.0.zen.2.bl.psbl</text>
<text x="43" y="1761.5" textLength="3150" lengthAdjust="spacingAndGlyphs">spamhausspamcopsorbsbarracudacentralabuseatsurrielmanituuceprotectjunkemailfiltermailspikegbudbspameatingmonkeybackscattererblocklistnordspams5hspfbldroneblabusechspamratsinterserverjustspamlashbackmegarblnixspampskyrbljpschultesenderscorespamcannibalswinogtornevalltriumfublunsubscorewoodywpblzapblspamhausspamcopsorbsbarracudacentralabuseatsurrielmanituuceprotectjunkemailfiltermailspikegbudbspameatingmonkeybackscattererblocklistnordspams5hspfbldroneblabusechspamratsinterserverjustspamlashbackmegarblnixspampskyrbljpschultesenderscorespamcannibalswinogtornevalltriumfublunsubscorewoodywpblzapblspamhausspamcopsorbsbarracudacentralabuseatsurrielmanituuceprotectjunkemailfiltermailspikegbudbspameatingmonkeybackscattererblocklistnordspams5hspfbldroneblabusechspamratsinterserverjustspamlashbackmegarblnixspampskyrbljpschultesenderscorespamcannibalswinogtornevalltriumfublunsubscorewoodywpblzapblspamhausspamcopsorbsbarracudacentralabuseatsurrielmanituuceprotect</text>
<text x="55" y="1769" textLength="3135" lengthAdjust="spacingAndGlyphs">orgnetgetcomorgnetcomnetdeorgcomnetorgchorgnetcomnetorgdeorgnetcomorgnetnetorgcomdenetorgcomnetorgchnetorgcomdeorgnetcomorgnetorgcomnetdeorgnetcomorgnetchorgnetcomorgdenetorgcomnetorgnetcomorgdenetorgcomnetorgnetchorgcomnetorgdenetcomorgnetorgcomnetdeorgnetcomorgchnetorgcomnetorgdenetcomorgnetorgcomnetdeorgnetcomorgnetchorgcomnetorgdenetcomorgnetorgcomnetdeorgnetcomorgchnetorgcomnetorgdenetcomorgnetorgcomnetdeorgnetcomorgnetchorgcomnetorgdenetcomorgnetorgcomnetdeorgnetcomorgchnetorgcomnetorgdenetcomorgnetorgcomnetdeorgnetcomorgnetchorgcomnetorgdenetcomorgnetorgcomnetdeorgnetcomorgchnetorgcomnetorgdenetcomorgnetorgcomnetdeorgnetcomorgnetchorgcomnetorgdenetcomorgnetorgcomnetdeorgnetcomorgchnetorgcomnetorgdenet</text>
<text x="50" y="1777" textLength="3140" lengthAdjust="spacingAndGlyphs">3 hopsBohopsHohopsdhopshopsgh hopbengrgrgrgrhops2hopsorghops1hopnethops4hopscomhopshops2hopsorghops5hopsnet1hophops3hopsorghopscomhops2hopsnethops1hophops4hopsorghopsnet5hopshopscom2hops3hopsorghopsnet1hophopscomhops2hopsorg4hopshopsnet1hop5hopscomhopsorg2hopshops3hopsnethopscom1hoporghops2hopsnethops4hopscomhopsorghops1hop5hopsnet2hopscomhopsorg3hopshopsnet1hophopscom2hopsorghops4hopsnethops1hopcomhops2hopsorghops5hopsnet3hopscomhopsorghops1hopnet2hopshopscom4hopsorghopsnet1hophops2hopscom3hopsorghopsnet5hopshopscom1hoporghops2hopsnethops4hopscomhopsorg1hophops3hopsnet2hopscomhopsorghops1hopnethops5hopscom2hopsorghops</text>
</g>
<g font-weight="bold">
<text x="113" y="1786">2 hops2 hopet</text>
<text x="205" y="1786">net</text>
<text x="298" y="1786">5 hops5 hops1 hop1 hop</text>
<text x="470" y="1786">1 hop2 hops</text>
<text x="600" y="1786">hops 3 hops</text>
<text x="760" y="1786">2 hops1 hop4 hops</text>
<text x="990" y="1786">hop3 hops</text>
<text x="1150" y="1786">Bohops hop ndt Ho@hdpb@bdhops</text>
<text x="1330" y="1786">1 Ho@hdpofs hops@2thops 1 ho</text>
<text x="1560" y="1786">2 hops 1 hop</text>
<text x="1700" y="1786">hops4 hops3 hops</text>
<text x="1880" y="1786">1 hop2 hops</text>
<text x="2030" y="1786">5 hops hops1 hop</text>
<text x="2200" y="1786">2 hops3 hops</text>
<text x="2370" y="1786">1 hop hops</text>
<text x="2500" y="1786">4 hops2 hops1 hop</text>
<text x="2700" y="1786">3 hops</text>
<text x="2800" y="1786">hops 2 hops1 hop</text>
<text x="2990" y="1786">1 hop3 hops</text>
<text x="3110" y="1786">2 hops1</text>
</g>
<text x="158" y="1794">5 hops</text>
<text x="202" y="1794">5 hops</text>
<text x="560" y="1794">1 hop</text>
<text x="880" y="1794">2 hops</text>
<text x="1197" y="1794">2 hops</text>
<text x="1397" y="1794">1 hop</text>
<text x="1660" y="1794">3 hops</text>
<text x="1905" y="1794">1 hop</text>
<text x="2240" y="1794">2 hops</text>
<text x="2560" y="1794">1 hop</text>
<text x="2800" y="1794">4 hops</text>
<text x="3050" y="1794">1 hop</text>
</g>
</g>
</svg>
</body></html>
